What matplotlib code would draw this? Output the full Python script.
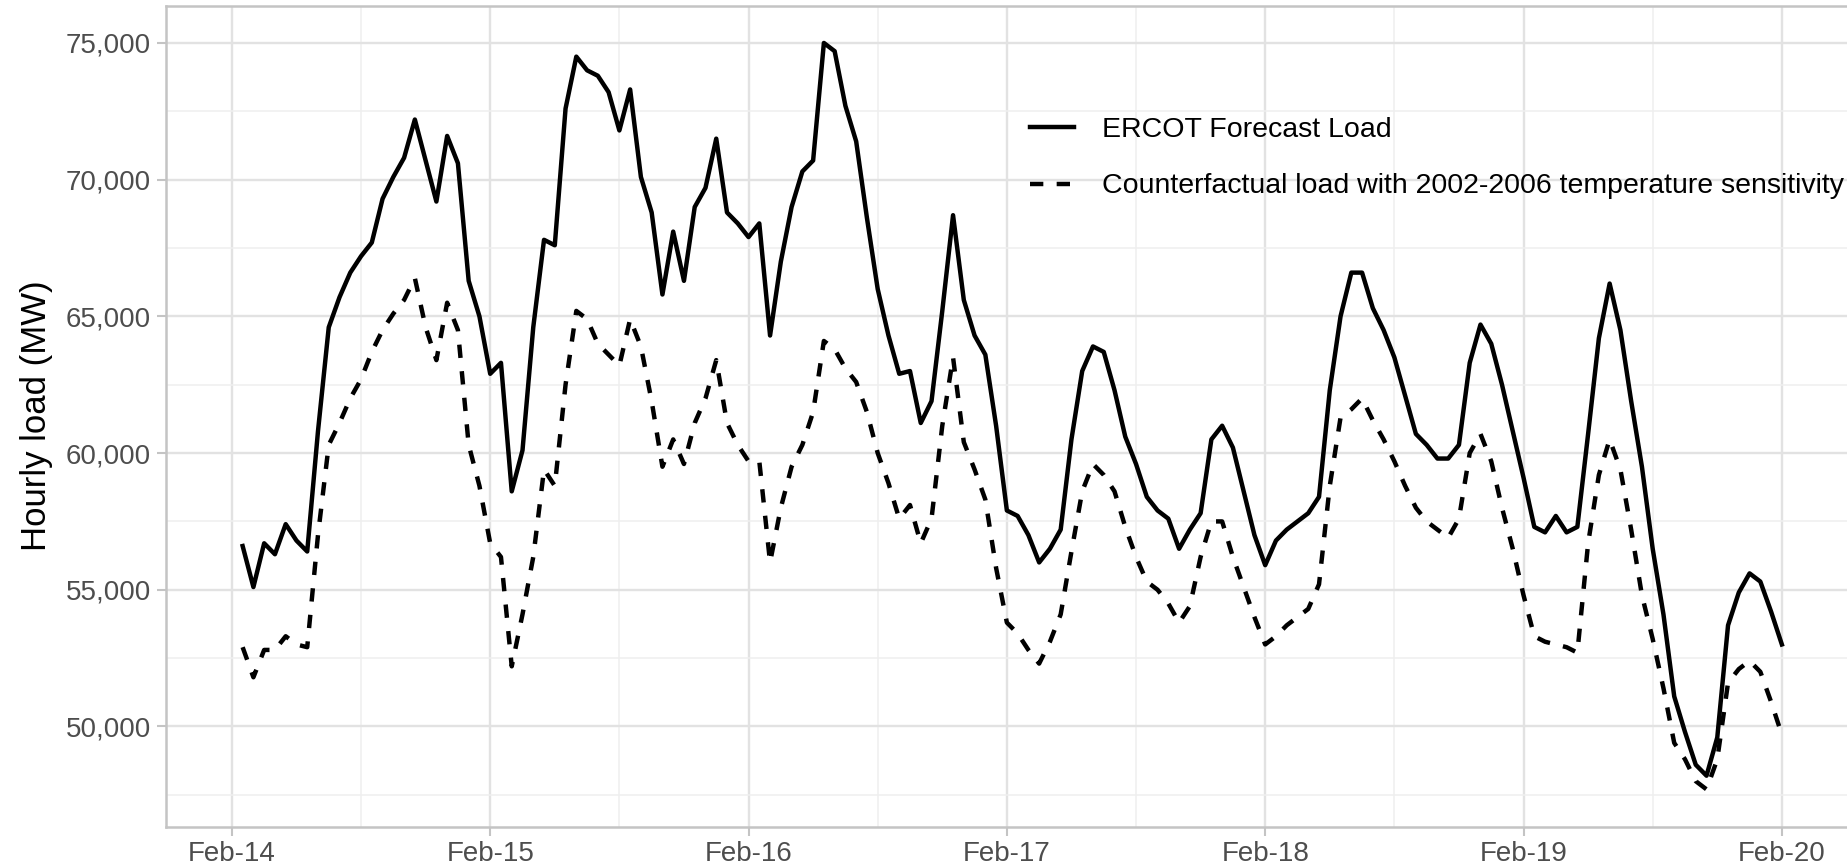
"""Почасовая нагрузка ERCOT, 14-20 февраля: прогноз и контрфактический сценарий.

Запуск:
    python plot.py   ->  out.png
"""

import matplotlib

matplotlib.use("Agg")
import matplotlib.dates as mdates
import matplotlib.pyplot as plt
import pandas as pd
from matplotlib.ticker import FuncFormatter, MultipleLocator

plt.rcParams["font.family"] = ["Liberation Sans", "DejaVu Sans"]

# первая точка ряда, дальше шаг 1 час
START = "2021-02-14 01:00"

FORECAST_MW = [
    56600, 55100, 56700, 56300, 57400, 56800, 56400, 60800, 64600, 65700, 66600, 67200,
    67700, 69300, 70100, 70800, 72200, 70700, 69200, 71600, 70600, 66300, 65000, 62900,
    63300, 58600, 60100, 64600, 67800, 67600, 72600, 74500, 74000, 73800, 73200, 71800,
    73300, 70100, 68800, 65800, 68100, 66300, 69000, 69700, 71500, 68800, 68400, 67900,
    68400, 64300, 67000, 69000, 70300, 70700, 75000, 74700, 72700, 71400, 68600, 66000,
    64300, 62900, 63000, 61100, 61900, 65200, 68700, 65600, 64300, 63600, 61000, 57900,
    57700, 57000, 56000, 56500, 57200, 60500, 63000, 63900, 63700, 62300, 60600, 59600,
    58400, 57900, 57600, 56500, 57200, 57800, 60500, 61000, 60200, 58600, 57000, 55900,
    56800, 57200, 57500, 57800, 58400, 62300, 65000, 66600, 66600, 65300, 64500, 63500,
    62100, 60700, 60300, 59800, 59800, 60300, 63300, 64700, 64000, 62500, 60800, 59100,
    57300, 57100, 57700, 57100, 57300, 60700, 64200, 66200, 64500, 61900, 59500, 56500,
    54100, 51100, 49800, 48600, 48200, 49600, 53700, 54900, 55600, 55300, 54200, 53000,
]

COUNTERFACTUAL_MW = [
    52900, 51800, 52800, 52800, 53300, 53000, 52900, 57000, 60300, 61100, 62000, 62700,
    63700, 64500, 65100, 65600, 66400, 64600, 63400, 65500, 64500, 60300, 58800, 56700,
    56200, 52200, 54100, 56200, 59400, 58800, 62500, 65200, 64900, 64000, 63600, 63200,
    64900, 63900, 61900, 59500, 60500, 59600, 61100, 62000, 63400, 61100, 60300, 59700,
    59700, 56000, 58000, 59500, 60300, 61500, 64100, 63800, 63100, 62600, 61500, 60000,
    58900, 57600, 58100, 56700, 57600, 61000, 63500, 60400, 59400, 58300, 55800, 53800,
    53400, 52800, 52300, 53100, 54100, 56400, 58600, 59600, 59200, 58600, 57300, 56200,
    55300, 55000, 54500, 53800, 54400, 56200, 57500, 57500, 56200, 55100, 54000, 53000,
    53300, 53700, 54000, 54300, 55200, 58800, 61300, 61600, 62000, 61200, 60500, 59700,
    58800, 58000, 57500, 57200, 56900, 57600, 60000, 60700, 59700, 58000, 56500, 54800,
    53300, 53100, 53000, 52900, 52700, 56700, 59200, 60500, 59400, 57200, 54800, 53200,
    51400, 49400, 48800, 48000, 47700, 48800, 51600, 52100, 52400, 52000, 50900, 49700,
]

LABEL_FORECAST = "ERCOT Forecast Load"
LABEL_COUNTER = "Counterfactual load with 2002-2006 temperature sensitivity"
Y_LABEL = "Hourly load (MW)"
Y_TICKS = [50000, 55000, 60000, 65000, 70000, 75000]

BORDER = "#C4C4C4"


def main() -> None:
    times = pd.date_range(START, periods=len(FORECAST_MW), freq="h")

    fig = plt.figure(figsize=(18.47, 8.68), dpi=100)
    # правый край панели уходит за кадр, как в исходной картинке
    ax = fig.add_axes([0.0897, 0.0476, 0.9167, 0.9459])

    ax.plot(times, FORECAST_MW, color="black", lw=3.2, label=LABEL_FORECAST)
    ax.plot(times, COUNTERFACTUAL_MW, color="black", lw=3.2,
            linestyle=(0, (3, 3)), label=LABEL_COUNTER)

    # расширение осей на 5%, как в ggplot
    t0, t1 = times[0], times[-1]
    tpad = (t1 - t0) * 0.05
    ax.set_xlim(t0 - tpad, t1 + tpad)
    lo = min(min(FORECAST_MW), min(COUNTERFACTUAL_MW))
    hi = max(max(FORECAST_MW), max(COUNTERFACTUAL_MW))
    ypad = (hi - lo) * 0.05
    ax.set_ylim(lo - ypad, hi + ypad)

    ax.xaxis.set_major_locator(mdates.DayLocator())
    ax.xaxis.set_minor_locator(mdates.HourLocator(byhour=[12]))
    ax.xaxis.set_major_formatter(mdates.DateFormatter("%b-%d"))
    ax.set_yticks(Y_TICKS)
    ax.yaxis.set_minor_locator(MultipleLocator(2500))
    ax.yaxis.set_major_formatter(FuncFormatter(lambda v, _: f"{v:,.0f}"))

    ax.set_axisbelow(True)
    ax.grid(which="major", color="#E2E2E2", lw=1.7)
    ax.grid(which="minor", color="#EFEFEF", lw=1.1)
    for sp in ax.spines.values():
        sp.set_color(BORDER)
        sp.set_linewidth(1.8)

    ax.tick_params(which="major", length=6.5, width=1.5, color=BORDER,
                   labelcolor="#4D4D4D", labelsize=20, pad=4)
    ax.tick_params(which="minor", length=0)

    ax.set_ylabel(Y_LABEL, fontsize=25, color="black")
    ax.yaxis.set_label_coords(-0.0666, 0.5)

    ax.legend(loc="upper left", bbox_to_anchor=(0.5577, 0.8655),
              bbox_transform=fig.transFigure, frameon=False, fontsize=20.5,
              handlelength=1.55, handletextpad=0.98, labelspacing=1.08,
              borderpad=0, borderaxespad=0)

    fig.savefig("out.png", dpi=100)
    plt.close(fig)


if __name__ == "__main__":
    main()
